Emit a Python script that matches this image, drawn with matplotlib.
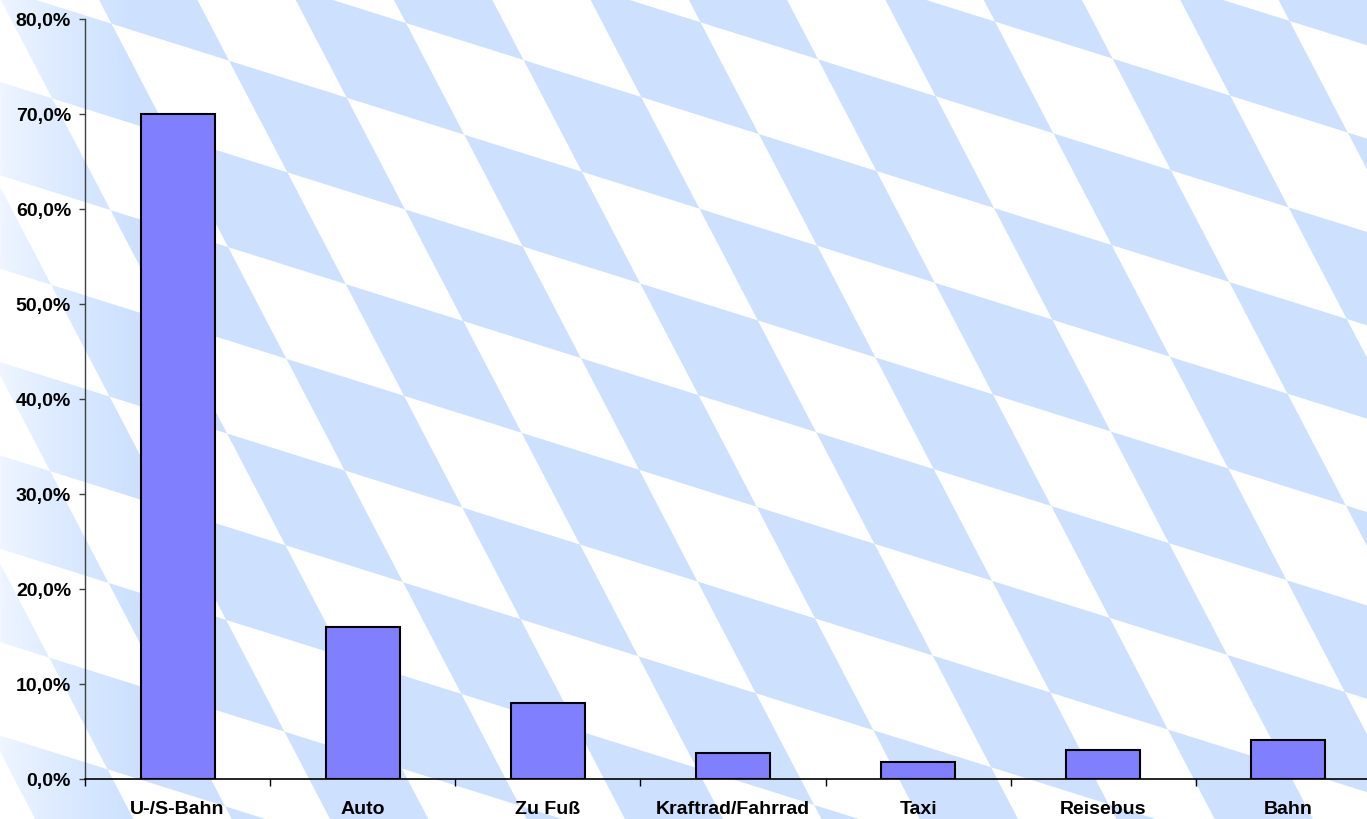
import numpy as np
import matplotlib
matplotlib.use("Agg")
import matplotlib.pyplot as plt
from matplotlib.ticker import FixedLocator, FuncFormatter

# ---- data ----
categories = ["U-/S-Bahn", "Auto", "Zu Fuß", "Kraftrad/Fahrrad", "Taxi", "Reisebus", "Bahn"]
values = [70.0, 16.0, 8.0, 2.7, 1.8, 3.1, 4.1]
y_ticks = [0, 10, 20, 30, 40, 50, 60, 70, 80]

W, H, DPI = 1367, 820, 100
plt.rcParams['font.family'] = ['Liberation Sans', 'DejaVu Sans']

fig = plt.figure(figsize=(W / DPI, H / DPI), dpi=DPI)

# ---- background: Bavarian lozenge pattern ----
ss = 3
xs = (np.arange(W * ss) + 0.5) / ss
ys = (np.arange(H * ss) + 0.5) / ss
X, Y = np.meshgrid(xs, ys)
V0 = np.array([700.5, 23.3])
a = np.array([117.6, 37.0])
b = np.array([58.3, 111.7])
det = a[0] * b[1] - b[0] * a[1]
dx = X - V0[0]
dy = Y - V0[1]
u = (dx * b[1] - b[0] * dy) / det
v = (a[0] * dy - a[1] * dx) / det
blue = ((np.floor(u) + np.floor(v)) % 2 == 1).astype(float)
blue = blue.reshape(H, ss, W, ss).mean(axis=(1, 3))
# fade towards the left edge
xcol = np.arange(W)
fade = 0.3 + 0.7 * np.clip(xcol / 130.0, 0, 1) ** 0.8
blue = blue * fade[None, :]
white = np.array([1.0, 1.0, 1.0])
bluec = np.array([205, 225, 255]) / 255.0
img = white[None, None, :] * (1 - blue[..., None]) + bluec[None, None, :] * blue[..., None]

bg = fig.add_axes([0, 0, 1, 1], zorder=-10)
bg.imshow(img, extent=(0, W, H, 0), aspect='auto', interpolation='nearest')
bg.set_xlim(0, W)
bg.set_ylim(H, 0)
bg.axis('off')

# ---- main axes ----
left_px, right_px, top_px, bot_px = 85, 1381, 20, 780
ax = fig.add_axes([left_px / W, (H - bot_px) / H, (right_px - left_px) / W, (bot_px - top_px) / H],
                  zorder=5)
ax.set_facecolor('none')
ax.patch.set_alpha(0)

x = np.arange(len(categories))
ax.bar(x, values, width=0.40, color='#8080FF', edgecolor='black', linewidth=1.5, zorder=3)

ax.set_xlim(-0.5, len(categories) - 0.5)
ax.set_ylim(0, 80)

ax.spines['top'].set_visible(False)
ax.spines['right'].set_visible(False)
ax.spines['left'].set_color('#404040')
ax.spines['left'].set_linewidth(1.0)
ax.spines['bottom'].set_color('black')
ax.spines['bottom'].set_linewidth(1.2)

ax.yaxis.set_major_locator(FixedLocator(y_ticks))
ax.yaxis.set_major_formatter(FuncFormatter(lambda val, pos: f"{val:.1f}".replace('.', ',') + '%'))
ax.tick_params(axis='y', direction='out', length=4, width=1, color='#404040', pad=6,
               labelsize=14)
for lab in ax.get_yticklabels():
    lab.set_fontweight('bold')

ax.set_xticks(np.arange(-0.5, len(categories) - 0.5, 1.0))
ax.set_xticklabels([])
ax.set_xticks(x, minor=True)
ax.set_xticklabels(categories, minor=True, fontweight='bold', fontsize=14)
ax.tick_params(axis='x', which='major', direction='out', length=5, width=1, color='black')
ax.tick_params(axis='x', which='minor', length=0, pad=15)

fig.savefig("out.png", dpi=DPI)
